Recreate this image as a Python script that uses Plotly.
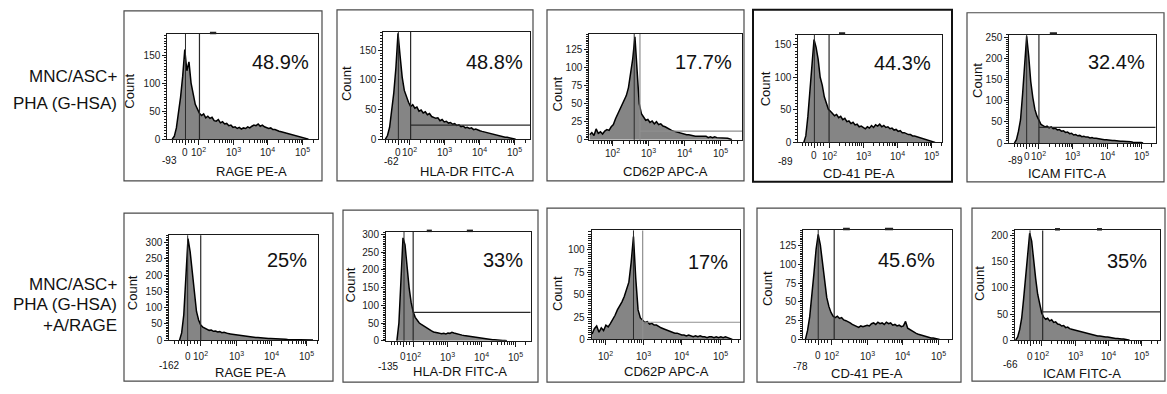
import math
import plotly.graph_objects as go

W, H = 1167, 394
BIN_WIDTH = 0.06  # histogram bin width, in decades of the biexponential display scale

# ---------------- text ----------------
row1_label = ["MNC/ASC+", "PHA (G-HSA)"]
row2_label = ["MNC/ASC+", "PHA (G-HSA)", "+A/RAGE"]
markers = ["RAGE PE-A", "HLA-DR FITC-A", "CD62P APC-A", "CD-41 PE-A", "ICAM FITC-A"]
pct_row1 = ["48.9%", "48.8%", "17.7%", "44.3%", "32.4%"]
pct_row2 = ["25%", "33%", "17%", "45.6%", "35%"]
min_row1 = ["-93", "-62", "", "-89", "-89"]
min_row2 = ["-162", "-135", "", "-78", "-66"]
decade_ticks = [2, 3, 4, 5]
decade_text = ["10<sup>2</sup>", "10<sup>3</sup>", "10<sup>4</sup>", "10<sup>5</sup>"]

# ---------------- scales ----------------
zero_row1 = [1.64, 1.67, None, 1.57, 1.64]
zero_row2 = [1.63, 1.71, None, 1.62, 1.65]
ymax_row1 = [187.7, 181, 146, 165.6, 256]
ymax_row2 = [322, 306.6, 121.8, 145.8, 210.5]
ydtick_row1 = [50, 50, 25, 50, 50]
ydtick_row2 = [50, 50, 25, 25, 50]

# ---------------- gates ----------------
gate_x_row1 = [2.04, 2.02, 2.76, 2.00, 2.00]
gate_y_row1 = [0, 23.6, 12, 0, 37]
gate_x_row2 = [2.00, 2.00, 2.98, 2.07, 2.03]
gate_y_row2 = [0, 80, 19.2, 0, 54.3]
peak_row1 = [1.64, 1.67, 2.60, 1.57, 1.64]
peak_row2 = [1.63, 1.73, 2.74, 1.62, 1.65]

# ---------------- histograms (first bin position + counts) ----------------
start_row1 = [1.26, 1.30, 1.36, 1.26, 1.28]
start_row2 = [1.40, 1.52, 1.66, 1.26, 1.22]

counts_rage_1 = [0, 5, 20, 45, 75, 112, 160, 122, 138, 100, 82, 62, 54, 46, 42, 45, 38, 41, 37, 39,
                 33, 32, 35, 29, 31, 27, 28, 24, 25, 21, 22, 19, 21, 18, 20, 19, 22, 20, 23, 25,
                 24, 27, 23, 25, 22, 21, 19, 20, 17, 17, 15, 14, 13, 12, 11, 9, 8, 7, 6, 5,
                 4, 3, 3, 2, 1, 0]
counts_hladr_1 = [0, 6, 20, 45, 78, 120, 178, 140, 104, 82, 71, 62, 55, 58, 52, 54, 47, 49, 44, 46,
                  41, 43, 38, 37, 35, 36, 31, 33, 29, 30, 27, 28, 25, 26, 23, 24, 21, 22, 19, 20,
                  18, 19, 16, 17, 15, 14, 13, 12, 11, 11, 9, 8, 8, 7, 6, 5, 4, 3, 3, 2,
                  1, 1, 0]
counts_cd62p_1 = [7, 10, 6, 15, 9, 11, 8, 12, 14, 13, 18, 21, 29, 35, 42, 47, 55, 61, 72, 90,
                  112, 142, 88, 50, 36, 31, 27, 28, 24, 26, 22, 25, 21, 22, 19, 18, 16, 15, 13, 12,
                  11, 10, 9, 9, 8, 7, 7, 6, 6, 5, 5, 5, 4, 4, 5, 3, 4, 3, 4, 3,
                  3, 2, 3, 2, 2, 1, 0]
counts_cd41_1 = [0, 10, 40, 78, 118, 158, 146, 128, 100, 88, 70, 62, 51, 48, 44, 41, 43, 38, 40, 35,
                 37, 32, 33, 29, 31, 27, 28, 24, 25, 23, 21, 24, 22, 26, 23, 27, 25, 28, 24, 26,
                 23, 24, 21, 22, 19, 20, 17, 18, 15, 15, 13, 12, 12, 10, 10, 9, 8, 7, 6, 5,
                 4, 3, 2, 1, 0]
counts_icam_1 = [0, 8, 28, 55, 115, 185, 252, 205, 145, 108, 80, 64, 54, 44, 41, 38, 40, 36, 38, 34,
                 35, 31, 32, 28, 29, 25, 26, 22, 23, 19, 20, 17, 18, 15, 16, 14, 14, 12, 13, 11,
                 11, 10, 10, 9, 8, 8, 7, 7, 6, 6, 5, 5, 4, 4, 4, 3, 3, 3, 2, 2,
                 2, 1, 1, 0]
counts_rage_2 = [0, 22, 78, 210, 312, 272, 205, 138, 88, 62, 46, 40, 36, 33, 30, 31, 27, 28, 25, 26,
                 23, 24, 21, 20, 19, 18, 16, 16, 14, 14, 13, 12, 11, 11, 9, 9, 8, 8, 7, 7,
                 6, 6, 5, 5, 5, 4, 4, 3, 3, 3, 3, 2, 2, 2, 2, 2, 2, 1, 2, 1,
                 1, 1, 1, 0]
counts_hladr_2 = [0, 50, 170, 290, 270, 205, 150, 108, 82, 66, 57, 50, 46, 42, 38, 34, 30, 28, 25, 23,
                  22, 21, 20, 21, 19, 22, 21, 24, 22, 20, 19, 17, 16, 15, 14, 13, 12, 11, 10, 9,
                  8, 7, 6, 6, 5, 4, 4, 3, 3, 2, 2, 2, 1, 1, 0]
counts_cd62p_2 = [6, 12, 15, 8, 13, 10, 16, 14, 18, 22, 27, 33, 37, 42, 48, 55, 64, 86, 115, 68,
                  33, 24, 22, 19, 20, 17, 18, 16, 16, 14, 13, 12, 11, 10, 9, 8, 7, 7, 6, 5,
                  5, 4, 5, 4, 3, 4, 3, 4, 3, 3, 2, 3, 3, 2, 3, 2, 3, 2, 3, 2,
                  1, 0]
counts_cd41_2 = [0, 12, 30, 55, 88, 120, 140, 126, 104, 80, 56, 44, 36, 31, 29, 31, 28, 29, 26, 25,
                 24, 22, 20, 19, 17, 16, 18, 17, 18, 19, 18, 21, 22, 20, 23, 21, 22, 20, 23, 21,
                 22, 19, 20, 18, 19, 17, 18, 24, 15, 13, 11, 10, 8, 7, 6, 5, 4, 3, 3, 2,
                 2, 1, 1, 0]
counts_icam_2 = [0, 6, 20, 42, 80, 120, 165, 205, 190, 150, 118, 88, 68, 52, 44, 40, 42, 37, 39, 34,
                 35, 31, 30, 27, 28, 24, 25, 22, 21, 20, 19, 18, 17, 15, 14, 13, 12, 11, 11, 10,
                 9, 8, 8, 7, 7, 6, 6, 5, 4, 4, 3, 3, 2, 2, 2, 1, 1, 0]

counts_row1 = [counts_rage_1, counts_hladr_1, counts_cd62p_1, counts_cd41_1, counts_icam_1]
counts_row2 = [counts_rage_2, counts_hladr_2, counts_cd62p_2, counts_cd41_2, counts_icam_2]

# ---------------- geometry (pixels) ----------------
GEOM = [
    dict(frame=(167.3, 318.3, 31.7, 139.3), xr=(1.12, 5.44), box=(124, 322, 8, 182), count=(129.7, 90),
         title=(251, 172), minlab=(170, 161), pct=(280, 60), handles=[(2.34, 2.52)]),
    dict(frame=(383.3, 530, 29.3, 139.3), xr=(1.24, 5.43), box=(337, 533, 7, 182), count=(346.7, 82.3),
         title=(466.7, 172.5), minlab=(391.7, 162.5), pct=(495, 60), handles=[]),
    dict(frame=(589.3, 742, 31.7, 140), xr=(1.35, 5.6), box=(547, 744, 7, 182), count=(557.3, 93.3),
         title=(665.3, 172.5), minlab=None, pct=(703.3, 60), handles=[]),
    dict(frame=(798.3, 942.3, 32.3, 142.7), xr=(1.10, 5.31), box=(753, 952, 7, 183), count=(765, 88.3),
         title=(859, 174), minlab=(785.7, 162), pct=(902.7, 61.7), handles=[(2.29, 2.47)]),
    dict(frame=(1009.3, 1155.7, 32.3, 143.3), xr=(1.13, 5.43), box=(967, 1164, 10, 183), count=(976.7, 79),
         title=(1066.7, 174), minlab=(1015, 161), pct=(1116.7, 60), handles=[(2.32, 2.53)]),
    dict(frame=(169.3, 318.3, 237.7, 345), xr=(1.11, 5.33), box=(124, 333, 215, 387), count=(133.3, 296.7),
         title=(250.3, 378.5), minlab=(169, 370.5), pct=(286.7, 263.3), handles=[]),
    dict(frame=(386, 530.7, 234.3, 345.7), xr=(1.2, 5.46), box=(343, 538, 212, 388), count=(350, 289),
         title=(460, 377), minlab=(387.5, 371.5), pct=(503.3, 263.3), handles=[(2.4, 2.55), (3.58, 3.76)]),
    dict(frame=(591.7, 740, 232.7, 344.3), xr=(1.65, 5.52), box=(547, 744, 210, 388), count=(557.3, 297.5),
         title=(666.7, 377), minlab=None, pct=(708.3, 265), handles=[]),
    dict(frame=(803.3, 951.7, 232.3, 344.3), xr=(1.2, 5.38), box=(757, 961, 210, 388), count=(768.3, 292.5),
         title=(866.7, 379.5), minlab=(800, 371.5), pct=(906.7, 263.3), handles=[(2.32, 2.51), (3.5, 3.73)]),
    dict(frame=(1015, 1160, 232.7, 345), xr=(1.2, 5.55), box=(972, 1165, 210, 387), count=(980, 287.5),
         title=(1081.7, 379.5), minlab=(1010, 370), pct=(1126.7, 264), handles=[(2.4, 2.55), (3.66, 3.81)]),
]
TICKLAB_OFFSET = [13.5, 16.5]  # px below the frame bottom, per row

FONT = "Liberation Sans, Arial, sans-serif"
INK = "#1a1a1a"


def px(x):
    return x / W


def py(y):
    return 1 - y / H


panels = []
for r, (pcts, mins, zeros, ymaxs, ydts, gxs, gys, peaks, starts, cnts) in enumerate([
    (pct_row1, min_row1, zero_row1, ymax_row1, ydtick_row1, gate_x_row1, gate_y_row1, peak_row1, start_row1, counts_row1),
    (pct_row2, min_row2, zero_row2, ymax_row2, ydtick_row2, gate_x_row2, gate_y_row2, peak_row2, start_row2, counts_row2),
]):
    for c in range(5):
        panels.append(dict(row=r, marker=markers[c], pct=pcts[c], minlab=mins[c], zero=zeros[c],
                           ymax=ymaxs[c], ydtick=ydts[c], gx=gxs[c], gy=gys[c], peak=peaks[c],
                           start=starts[c], counts=cnts[c], gray_gate=(c == 2)))

fig = go.Figure()
layout = dict(width=W, height=H, margin=dict(l=0, r=0, t=0, b=0), paper_bgcolor="white",
              plot_bgcolor="white", showlegend=False)
shapes, annotations = [], []

for i, (p, g) in enumerate(zip(panels, GEOM)):
    n = i + 1
    sfx = "" if n == 1 else str(n)
    xname, yname = "x" + sfx, "y" + sfx
    fl, fr, ft, fb = g["frame"]
    ul, ur = g["xr"]

    xs = [p["start"] + k * BIN_WIDTH for k in range(len(p["counts"]))]
    fig.add_trace(go.Scatter(x=xs, y=p["counts"], mode="lines", xaxis=xname, yaxis=yname,
                             line=dict(color="black", width=1.5), fill="tozeroy",
                             fillcolor="#858585", hoverinfo="skip"))

    tickvals, ticktext = [], []
    if p["zero"] is not None:
        tickvals.append(p["zero"])
        ticktext.append("0")
    tickvals += decade_ticks
    ticktext += decade_text

    minor = []
    for k in (1, 2, 3, 4, 5):
        for m in range(2, 10):
            v = k + math.log10(m)
            if ul < v < ur and (p["zero"] is None or v > 2 or k >= 2):
                minor.append(v)
    if p["zero"] is not None:
        z = p["zero"]
        for d in (-0.36, -0.27, -0.18, -0.09, 0.09, 0.18, 0.27):
            v = z + d
            if ul < v < 1.98:
                minor.append(v)

    layout["xaxis" + sfx] = dict(
        domain=[px(fl), px(fr)], anchor=yname, range=[ul, ur], fixedrange=True,
        showline=True, linecolor=INK, linewidth=1, mirror=True, showgrid=False, zeroline=False,
        ticks="outside", ticklen=5, tickwidth=1, tickcolor=INK, tickvals=tickvals,
        showticklabels=False,
        minor=dict(tickvals=minor, ticks="outside", ticklen=3, tickcolor=INK, tickwidth=1),
    )
    layout["yaxis" + sfx] = dict(
        domain=[py(fb), py(ft)], anchor=xname, range=[0, p["ymax"]], fixedrange=True,
        showline=True, linecolor=INK, linewidth=1, mirror=True, showgrid=False, zeroline=False,
        ticks="outside", ticklen=4, tickwidth=1, tickcolor=INK, dtick=p["ydtick"], tick0=0,
        tickfont=dict(family=FONT, size=10, color=INK),
        minor=dict(dtick=p["ydtick"] / 10, tick0=0, ticks="outside", ticklen=2.5, tickcolor=INK, tickwidth=1),
    )

    # x tick labels (placed at the axis values)
    for tv, tt in zip(tickvals, ticktext):
        annotations.append(dict(text=tt, xref=xname, yref="paper", x=tv, y=py(fb + TICKLAB_OFFSET[p["row"]]),
                                showarrow=False, xanchor="center", yanchor="middle",
                                font=dict(family=FONT, size=10, color=INK)))

    ydom = yname + " domain"
    # line through the main peak
    shapes.append(dict(type="line", xref=xname, yref=ydom, x0=p["peak"], x1=p["peak"], y0=0, y1=1,
                       line=dict(color="#2a2a2a", width=1)))
    gate_col = "#8f8f8f" if p["gray_gate"] else "#2a2a2a"
    shapes.append(dict(type="line", xref=xname, yref=ydom, x0=p["gx"], x1=p["gx"], y0=0, y1=1,
                       line=dict(color=gate_col, width=1.2)))
    if p["gy"] > 0:
        shapes.append(dict(type="line", xref=xname, yref=yname, x0=p["gx"], x1=ur, y0=p["gy"], y1=p["gy"],
                           line=dict(color=gate_col, width=1.2)))
    for a, b in g["handles"]:
        shapes.append(dict(type="line", xref=xname, yref=ydom, x0=a, x1=b, y0=1.01, y1=1.01,
                           line=dict(color="#222", width=2.5)))

    # outer panel box
    bl, br, bt, bb = g["box"]
    heavy = (n == 4)
    shapes.append(dict(type="rect", xref="paper", yref="paper", x0=px(bl), x1=px(br), y0=py(bb), y1=py(bt),
                       line=dict(color="#111" if heavy else "#4a4a4a", width=2 if heavy else 1.2)))

    annotations.append(dict(text=p["pct"], xref="paper", yref="paper", x=px(g["pct"][0]), y=py(g["pct"][1]),
                            showarrow=False, xanchor="center", yanchor="middle",
                            font=dict(family=FONT, size=20, color="#111")))
    annotations.append(dict(text="Count", xref="paper", yref="paper", x=px(g["count"][0]), y=py(g["count"][1]),
                            showarrow=False, textangle=-90, xanchor="center", yanchor="middle",
                            font=dict(family=FONT, size=13, color="#111")))
    annotations.append(dict(text=p["marker"], xref="paper", yref="paper", x=px(g["title"][0]), y=py(g["title"][1]),
                            showarrow=False, xanchor="center", yanchor="middle",
                            font=dict(family=FONT, size=13, color="#111")))
    if p["minlab"]:
        annotations.append(dict(text=p["minlab"], xref="paper", yref="paper", x=px(g["minlab"][0]),
                                y=py(g["minlab"][1]), showarrow=False, xanchor="center", yanchor="middle",
                                font=dict(family=FONT, size=10, color="#111")))

# row labels
for text, yy in zip(row1_label, [75, 103]):
    annotations.append(dict(text=text, xref="paper", yref="paper", x=px(119), y=py(yy), showarrow=False,
                            xanchor="right", yanchor="middle", font=dict(family=FONT, size=17, color="#111")))
for text, yy in zip(row2_label, [288, 309, 330]):
    annotations.append(dict(text=text, xref="paper", yref="paper", x=px(119), y=py(yy), showarrow=False,
                            xanchor="right", yanchor="middle", font=dict(family=FONT, size=17, color="#111")))

layout["shapes"] = shapes
layout["annotations"] = annotations
fig.update_layout(**layout)
fig.write_html("out.html", config={"displayModeBar": False, "staticPlot": True},
               post_script="document.body.style.margin='0';document.body.style.overflow='hidden';")
